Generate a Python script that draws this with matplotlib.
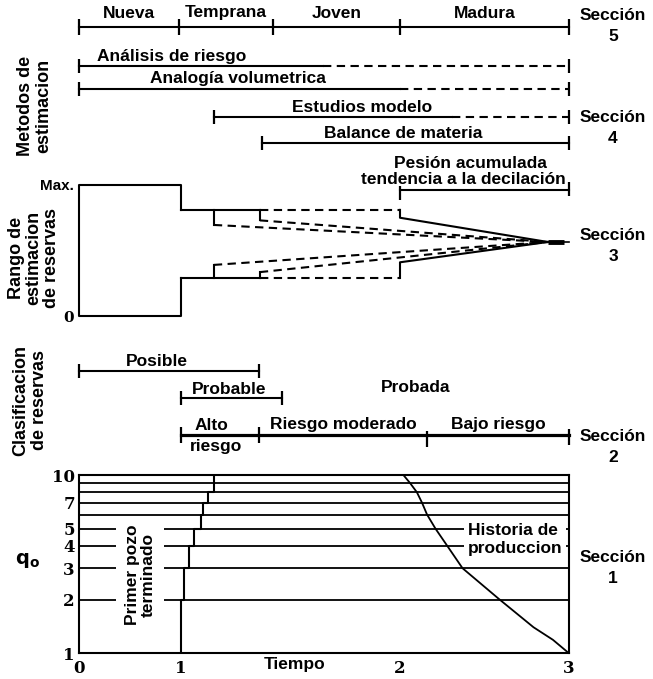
import numpy as np
import matplotlib.pyplot as plt
from matplotlib.ticker import NullLocator

plt.rcParams['font.family'] = ['Liberation Sans', 'DejaVu Sans']

# the time axis of the sketch is not linear: drawn length of each unit
T_KNOTS = [0, 1, 2, 3]
PX_KNOTS = [0, 102, 321, 490]

# Seccion 5: etapa del campo
PHASES = ['Nueva', 'Temprana', 'Joven', 'Madura']
PHASE_BOUNDS = [0, 0.98, 1.42, 2.0, 3.0]

# Seccion 4: metodos de estimacion (inicio, fin del tramo continuo, fin)
METHODS = ['Análisis de riesgo', 'Analogía volumetrica', 'Estudios modelo', 'Balance de materia']
METHOD_START = [0, 0, 1.15, 1.37]
METHOD_SOLID_END = [1.65, 2.0, 2.31, 3.0]
METHOD_END = [3.0, 3.0, 3.0, 3.0]
PRESSURE_SPAN = [2.0, 3.0]

# Seccion 3: rango de estimacion de reservas (% del maximo)
BOX_T = [1, 1, 0, 0, 1, 1]
BOX_V = [81, 100, 100, 0, 0, 29]
EDGE_T = [1.0, 1.36, 2.0, 2.0, 2.875]
UPPER_V = [81, 81, 81, 75, 56.5]
LOWER_V = [29, 29, 29, 41, 56.5]
INNER_T = [1.15, 1.36, 1.15, 1.36]
INNER_FROM = [81, 81, 29, 29]
INNER_TO = [69.5, 73, 39, 33.5]
APEX_T, APEX_V = 2.875, 56.5
TAIL_T = [2.875, 2.97, 3.0]

# Seccion 2: clasificacion de reservas
POSSIBLE_SPAN = [0, 1.355]
PROBABLE_SPAN = [1.0, 1.46]
RISK_BOUNDS = [1.0, 1.355, 2.16, 3.0]

# Seccion 1: produccion
GRID_Q = [2, 3, 4, 5, 6, 7, 8, 9]
STEP_T = [1.0, 1.015, 1.035, 1.06, 1.09, 1.10, 1.125, 1.15]
STEP_Q = [1, 2, 3, 4, 5, 6, 7, 8, 10]
DECLINE_T = [2.02, 2.06, 2.10, 2.13, 2.16, 2.21, 2.28, 2.37, 2.59, 2.79, 2.905, 3.0]
DECLINE_Q = [10, 9, 8, 7, 6, 5, 4, 3, 2, 1.4, 1.19, 1.0]
X_TICKS = [0, 1, 2, 3]
Y_TICKS = [1, 2, 3, 4, 5, 7, 10]

W, H = 653, 679
L, R = 79, 569
fig = plt.figure(figsize=(W / 100, H / 100), dpi=100)


def fwd(t):
    return np.interp(t, T_KNOTS, PX_KNOTS)


def inv(p):
    return np.interp(p, PX_KNOTS, T_KNOTS)


def axes_px(top, bottom):
    ax = fig.add_axes([L / W, 1 - bottom / H, (R - L) / W, (bottom - top) / H])
    ax.set_xscale('function', functions=(fwd, inv))
    ax.set_xlim(0, 3)
    ax.patch.set_visible(False)
    return ax


def mid(a, b):
    return float(inv((fwd(a) + fwd(b)) / 2))


def px_text(x, y, s, size=12.5, **kw):
    kw.setdefault('ha', 'center')
    kw.setdefault('va', 'center')
    kw.setdefault('fontweight', 'bold')
    return fig.text(x / W, 1 - y / H, s, fontsize=size, **kw)


K = dict(color='black', clip_on=False)
DASH = (0, (4, 2.6))
LBL = dict(ha='center', va='center', fontsize=12.5, fontweight='bold')

# ---- schematic rows (y in pixel rows of the page) ----
ax = axes_px(0, H)
ax.set_ylim(H, 0)
ax.axis('off')

# seccion 5
ax.plot([PHASE_BOUNDS[0], PHASE_BOUNDS[-1]], [27, 27], lw=1.5, **K)
ax.plot(PHASE_BOUNDS, [27] * len(PHASE_BOUNDS), ls='none', marker='|', ms=12, mew=1.6, **K)
for name, a, b in zip(PHASES, PHASE_BOUNDS[:-1], PHASE_BOUNDS[1:]):
    ax.text(mid(a, b), 13, name, **LBL)

# seccion 4
method_y = [66, 89, 117, 143]
for y, s, m, e in zip(method_y, METHOD_START, METHOD_SOLID_END, METHOD_END):
    ax.plot([s, m], [y, y], lw=1.5, **K)
    if m < e:
        ax.plot([m, e], [y, y], lw=1.5, ls=DASH, **K)
    ax.plot([s, e], [y, y], ls='none', marker='|', ms=10, mew=1.6, **K)
for (x, y), name in zip([(172, 56), (238, 79), (362, 107), (403, 134)], METHODS):
    px_text(x, y, name)

ax.plot(PRESSURE_SPAN, [190, 190], lw=1.5, **K)
ax.plot(PRESSURE_SPAN, [193, 189], ls='none', marker='|', ms=10, mew=1.6, **K)
px_text(470, 163, 'Pesión acumulada')
px_text(463, 180, 'tendencia a la decilación')

# seccion 2
ax.plot(POSSIBLE_SPAN, [371, 371], lw=1.5, **K)
ax.plot(POSSIBLE_SPAN, [371, 371], ls='none', marker='|', ms=10, mew=1.6, **K)
ax.plot(PROBABLE_SPAN, [398, 398], lw=1.5, **K)
ax.plot(PROBABLE_SPAN, [398, 398], ls='none', marker='|', ms=10, mew=1.6, **K)
ax.plot([RISK_BOUNDS[0], RISK_BOUNDS[-1]], [435, 435], lw=2.3, **K)
ax.plot(RISK_BOUNDS, [435, 435, 439, 437], ls='none', marker='|', ms=12, mew=1.6, **K)
px_text(157, 362, 'Posible')
px_text(229, 389, 'Probable')
px_text(416, 388, 'Probada')
px_text(211, 426, 'Alto')
px_text(216, 446, 'riesgo')
ax.text(mid(RISK_BOUNDS[1], RISK_BOUNDS[2]), 425, 'Riesgo moderado', **LBL)
ax.text(mid(RISK_BOUNDS[2], RISK_BOUNDS[3]), 425, 'Bajo riesgo', **LBL)

# ---- seccion 3: rango de estimacion ----
ar = axes_px(185, 316)
ar.set_ylim(0, 100)
for sp in ar.spines.values():
    sp.set_visible(False)
ar.set_xticks([])
ar.set_yticks([0, 100], ['0', 'Max.'])
ar.tick_params(axis='y', length=0, pad=4)
ylab = ar.get_yticklabels()
ylab[0].set_fontfamily('DejaVu Serif')
for t in ylab:
    t.set_fontweight('bold')
    t.set_fontsize(11)

ar.plot(BOX_T, BOX_V, lw=1.5, **K)
for vals in (UPPER_V, LOWER_V):
    ar.plot(EDGE_T[:2], vals[:2], lw=1.5, **K)
    ar.plot(EDGE_T[1:3], vals[1:3], lw=1.5, ls=DASH, **K)
    ar.plot(EDGE_T[2:], vals[2:], lw=1.5, **K)
for t0, v0, v1 in zip(INNER_T, INNER_FROM, INNER_TO):
    ar.plot([t0, t0], [v0, v1], lw=1.5, **K)
    ar.plot([t0, APEX_T], [v1, APEX_V], lw=1.5, ls=DASH, **K)
ar.plot(TAIL_T[:2], [APEX_V, APEX_V], lw=3.5, solid_capstyle='butt', **K)
ar.plot(TAIL_T[1:], [APEX_V, APEX_V], lw=1.2, **K)

# ---- seccion 1: produccion ----
ap = axes_px(475, 653.3)
ap.set_yscale('log')
ap.set_ylim(1, 10)
for sp in ap.spines.values():
    sp.set_linewidth(1.5)
ap.yaxis.set_minor_locator(NullLocator())
ap.set_yticks(Y_TICKS, [str(v) for v in Y_TICKS])
ap.set_xticks(X_TICKS, [str(v) for v in X_TICKS])
ap.tick_params(length=0, labelsize=12)
ap.tick_params(axis='x', pad=5)
ap.tick_params(axis='y', pad=3)
for t in ap.get_xticklabels() + ap.get_yticklabels():
    t.set_fontfamily('DejaVu Serif')
    t.set_fontweight('bold')

ap.hlines(GRID_Q, 0, 3, color='black', lw=1.3, zorder=1)
sx, sy = [], []
for i, t in enumerate(STEP_T):
    sx += [t, t]
    sy += [STEP_Q[i], STEP_Q[i + 1]]
ap.plot(sx, sy, color='black', lw=1.5, zorder=1)
ap.plot(DECLINE_T, DECLINE_Q, color='black', lw=1.3, zorder=1)

ap.text(0.6, 2.75, 'Primer pozo\nterminado', rotation=90, ha='center', va='center',
        fontsize=12.5, fontweight='bold', linespacing=1.1,
        bbox=dict(facecolor='white', edgecolor='none', pad=6), zorder=2)
ap.text(2.40, 4.35, 'Historia de\nproduccion', ha='left', va='center',
        fontsize=12.5, fontweight='bold', linespacing=1.25,
        bbox=dict(facecolor='white', edgecolor='none', pad=2.5), zorder=2)

px_text(28, 560, r'$\mathbf{q_o}$', size=14)
px_text(295, 665, 'Tiempo')

# ---- rotulos laterales ----
px_text(35, 106, 'Metodos de\nestimacion', size=13, rotation=90, linespacing=1.1)
px_text(34, 258, 'Rango de\nestimacion\nde reservas', size=13, rotation=90, linespacing=1.05)
px_text(30, 400, 'Clasificacion\nde reservas', size=13, rotation=90, linespacing=1.1)

for n, y in zip([5, 4, 3, 2, 1], [26, 128, 246, 447, 568]):
    px_text(613, y, 'Sección\n%d' % n, linespacing=1.45)

fig.savefig('out.png', dpi=100, facecolor='white')
